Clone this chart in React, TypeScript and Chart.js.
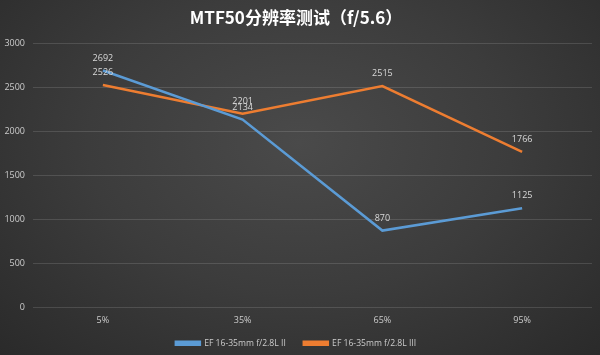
import React, { useEffect, useRef } from "react";
import { Chart, registerables } from "chart.js";

Chart.register(...registerables);

const categories = ["5%", "35%", "65%", "95%"];
const seriesII = [2692, 2134, 870, 1125];
const seriesIII = [2526, 2201, 2515, 1766];
const seriesNames = ["EF 16-35mm f/2.8L II", "EF 16-35mm f/2.8L III"];
const yTicks = [0, 500, 1000, 1500, 2000, 2500, 3000];
const titleText = "MTF50分辨率测试（f/5.6）";

const BLUE = "#5B9BD5";
const ORANGE = "#ED7D31";
const TEXT = "#cccccc";
const FONT = "'Open Sans', 'Noto Sans', 'Noto Sans CJK SC', sans-serif";

const dataLabelPlugin = {
  id: "dataLabels",
  afterDatasetsDraw(chart: any) {
    const ctx = chart.ctx;
    ctx.save();
    ctx.font = `9px ${FONT}`;
    ctx.fillStyle = "#d9d9d9";
    ctx.textAlign = "center";
    ctx.textBaseline = "bottom";
    chart.data.datasets.forEach((ds: any, di: number) => {
      const meta = chart.getDatasetMeta(di);
      meta.data.forEach((pt: any, i: number) => {
        ctx.fillText(String(ds.data[i]), pt.x, pt.y - 8);
      });
    });
    ctx.restore();
  },
};

const legendHeightPlugin = {
  id: "legendHeight",
  afterInit(chart: any) {
    const lg = chart.legend;
    if (!lg) return;
    const orig = lg.fit;
    lg.fit = function () {
      orig.call(this);
      this.height = 34;
    };
  },
};

export default function App() {
  const ref = useRef<HTMLCanvasElement>(null);
  useEffect(() => {
    document.body.style.margin = "0";
    const chart = new Chart(ref.current!, {
      type: "line",
      data: {
        labels: categories,
        datasets: [
          {
            label: seriesNames[0],
            data: seriesII,
            borderColor: BLUE,
            backgroundColor: BLUE,
            borderWidth: 2.5,
            pointRadius: 0,
            tension: 0,
          },
          {
            label: seriesNames[1],
            data: seriesIII,
            borderColor: ORANGE,
            backgroundColor: ORANGE,
            borderWidth: 2.5,
            pointRadius: 0,
            tension: 0,
          },
        ],
      },
      options: {
        animation: false,
        responsive: false,
        maintainAspectRatio: false,
        layout: { padding: { left: 0, right: 8, top: 0, bottom: 0 } },
        plugins: {
          title: {
            display: true,
            text: titleText,
            color: "#ffffff",
            font: { size: 17, weight: "bold", family: "'Noto Sans CJK SC', 'Open Sans', sans-serif" },
            padding: { top: 7, bottom: 16 },
          },
          legend: {
            position: "bottom",
            labels: {
              color: TEXT,
              font: { size: 8.6, family: FONT },
              boxWidth: 24,
              boxHeight: 3,
              padding: 18,
            },
          },
          tooltip: { enabled: false },
        },
        scales: {
          x: {
            offset: true,
            grid: { display: false, drawTicks: false },
            border: { display: false },
            ticks: { color: TEXT, font: { size: 9, family: FONT }, padding: 8 },
            afterFit: (s: any) => {
              s.height = 14;
              s._computeLabelArea = () => undefined;
            },
          },
          y: {
            min: 0,
            max: 3000,
            afterBuildTicks: (s: any) => {
              s.ticks = yTicks.map((v) => ({ value: v }));
            },
            grid: { color: "rgba(255,255,255,0.13)", drawTicks: false },
            border: { display: false },
            ticks: {
              color: TEXT,
              font: { size: 9, family: FONT },
              padding: 8,
              callback: (v: any) => String(v),
            },
            afterFit: (s: any) => {
              s.width = 33;
            },
          },
        },
      },
      plugins: [dataLabelPlugin, legendHeightPlugin],
    });
    return () => chart.destroy();
  }, []);
  return (
    <div
      style={{
        width: 600,
        height: 355,
        background:
          "radial-gradient(ellipse at 50% 40%, #4a4a4a 0%, #3c3c3c 50%, #2a2a2a 100%)",
      }}
    >
      <canvas ref={ref} width={600} height={355} style={{ display: "block" }} />
    </div>
  );
}
